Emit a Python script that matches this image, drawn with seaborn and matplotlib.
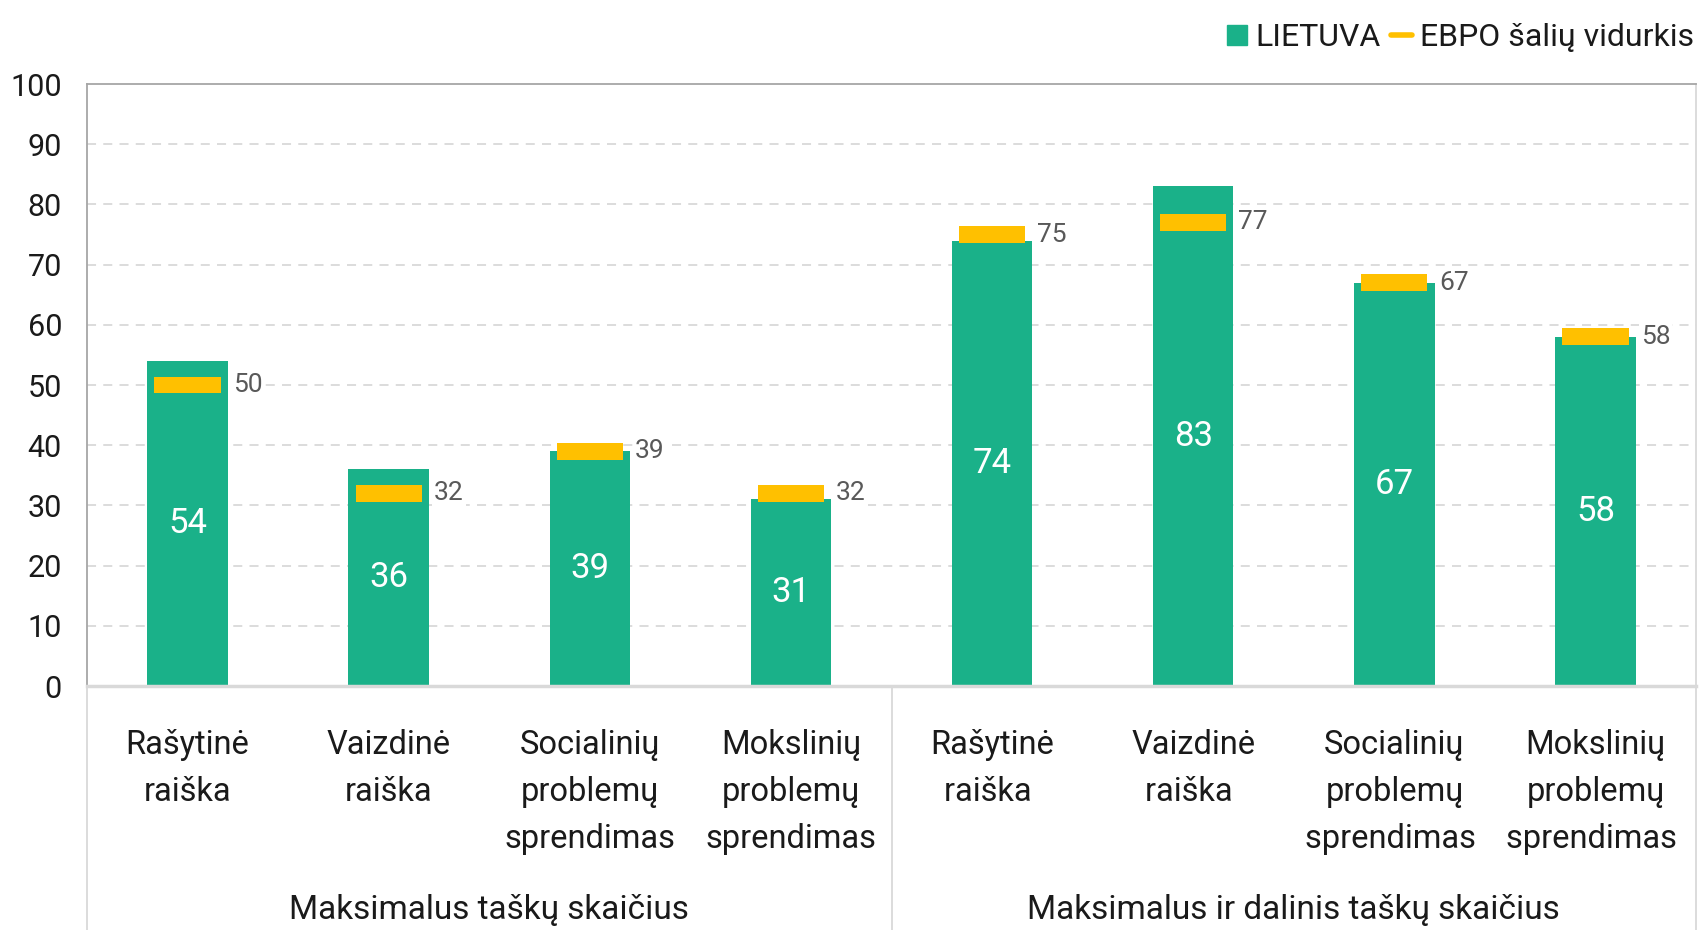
import matplotlib
matplotlib.use("Agg")
import matplotlib.pyplot as plt
from matplotlib.lines import Line2D
import seaborn as sns
import pandas as pd
import numpy as np

categories = ["Rašytinė\nraiška", "Vaizdinė\nraiška", "Socialinių\nproblemų\nsprendimas",
              "Mokslinių\nproblemų\nsprendimas",
              "Rašytinė\nraiška ", "Vaizdinė\nraiška ", "Socialinių\nproblemų\nsprendimas ",
              "Mokslinių\nproblemų\nsprendimas "]
groups = ["Maksimalus taškų skaičius", "Maksimalus ir dalinis taškų skaičius"]
lietuva = [54, 36, 39, 31, 74, 83, 67, 58]
ebpo = [50, 32, 39, 32, 75, 77, 67, 58]
yticks = [0, 10, 20, 30, 40, 50, 60, 70, 80, 90, 100]

GREEN = "#1AB189"
YELLOW = "#FFC000"
FONT = ["Roboto", "DejaVu Sans"]
TXT = "#1a1a1a"

sns.set_theme(style="white")
plt.rcParams["font.family"] = FONT

fig = plt.figure(figsize=(17.01, 9.30), dpi=100)
ax = fig.add_axes([87/1701, 1-686/930, (1696-87)/1701, (686-84)/930])

df = pd.DataFrame({"cat": categories, "val": lietuva})
sns.barplot(data=df, x="cat", y="val", color=GREEN, saturation=1, width=0.40, ax=ax,
            edgecolor="none", linewidth=0)

x = np.arange(len(categories))
ax.bar(x, 2.8, bottom=np.array(ebpo) - 1.4, width=0.33, color=YELLOW, zorder=4,
       edgecolor="none", linewidth=0)

for xi, v in zip(x, lietuva):
    ax.text(xi, v / 2, str(v), ha="center", va="center", color="white", fontsize=25, zorder=5)
for xi, v in zip(x, ebpo):
    ax.text(xi + 0.225, v, str(v), ha="left", va="center", color="#595959", fontsize=19,
            zorder=5, bbox=dict(facecolor="white", edgecolor="none", pad=1.5))

ax.set_ylim(0, 100)
ax.set_xlim(-0.5, len(categories) - 0.5)
ax.set_yticks(yticks)
ax.set_yticklabels([str(t) for t in yticks], fontsize=22, color=TXT)
ax.tick_params(axis="y", length=0, pad=18)
ax.set_xticks(x)
ax.set_xticklabels(categories, fontsize=23.5, color=TXT, linespacing=1.6, va="top")
ax.tick_params(axis="x", length=0, pad=31)
ax.set_xlabel("")
ax.set_ylabel("")

for t in yticks[1:-1]:
    ax.axhline(t, color="#D9D9D9", lw=1.3, ls=(0, (5, 4)), zorder=0)

for s in ["top", "left"]:
    ax.spines[s].set_color("#A6A6A6")
    ax.spines[s].set_linewidth(1.3)
ax.spines["right"].set_color("#D9D9D9")
ax.spines["right"].set_linewidth(1.3)
ax.spines["bottom"].set_color("#D9D9D9")
ax.spines["bottom"].set_linewidth(2.5)

trans = ax.transAxes
for xs in [0, 0.5, 1.0]:
    ax.add_line(Line2D([xs, xs], [0, -0.45], transform=trans, color="#D9D9D9", lw=1.3,
                       clip_on=False))
for i, g in enumerate(groups):
    ax.text(0.25 + 0.5 * i, -0.372, g, transform=trans, ha="center", va="center",
            fontsize=24, color=TXT)

handles = [Line2D([], [], marker="s", color=GREEN, ls="none", markersize=15),
           Line2D([], [], color=YELLOW, lw=4)]
fig.legend(handles, ["LIETUVA", "EBPO šalių vidurkis"], loc="upper right",
           bbox_to_anchor=(1.013, 1.006), ncol=2, frameon=False, fontsize=23,
           handlelength=0.65, handletextpad=0.25, columnspacing=0.35, labelcolor=TXT)

fig.savefig("out.png", dpi=100)
